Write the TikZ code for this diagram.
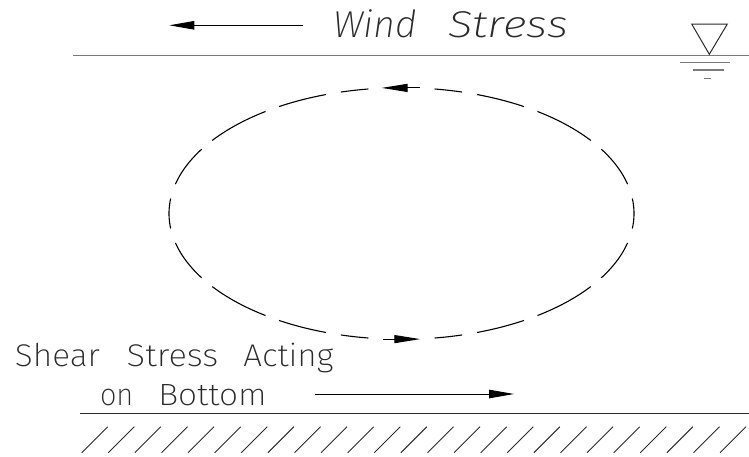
\documentclass[tikz,border=0pt]{standalone}
\usepackage{fontspec}
\usepackage{graphicx}
\usetikzlibrary{arrows.meta}
\newfontfamily\cadfont{Fira Sans}[UprightFont=* ExtraLight, ItalicFont=* ExtraLight Italic, BoldFont=* ExtraLight]
\newcommand\cadw[3]{\resizebox{#1}{#2}{\cadfont\raisebox{0pt}[\fontcharht\font`H][0pt]{#3}}}
\newcommand\cadwi[3]{\resizebox{#1}{#2}{\cadfont\itshape\raisebox{0pt}[\fontcharht\font`H][0pt]{#3}}}
\definecolor{inkgray}{HTML}{2A2A2A}
\definecolor{linegray}{HTML}{7A7A7A}
\begin{document}
\begin{tikzpicture}[x=1pt,y=-1pt,
  ell/.style={line width=1.1pt, black},
  hatchline/.style={line width=0.9pt, inkgray},
  cadtext/.style={anchor=base west, inner sep=0pt, outer sep=0pt, text=inkgray},
  stressarrow/.style={line width=0.9pt, black, -{Triangle[length=25pt,width=8.5pt]}},
  surface/.style={line width=1.3pt, linegray},
  bottomline/.style={line width=1.5pt, inkgray},
  wl/.style={line width=1pt, inkgray}]
\useasboundingbox (0,0) rectangle (749,456);

% water surface
\coordinate (s1) at (73,55.3);
\coordinate (s2) at (749,55.3);
\draw[surface] (s1) -- (s2);

% water level symbol
\coordinate (t1) at (691.7,24);
\coordinate (t2) at (727.3,24);
\coordinate (t3) at (709.3,54.3);
\draw[wl] (t1) -- (t2) -- (t3) -- cycle;
\coordinate (l1a) at (680,62.7); \coordinate (l1b) at (730,62.7);
\coordinate (l2a) at (693,70);   \coordinate (l2b) at (724,70);
\coordinate (l3a) at (704,78.7); \coordinate (l3b) at (711,78.7);
\draw[line width=1.4pt, linegray] (l1a) -- (l1b);
\draw[line width=1.2pt, linegray] (l2a) -- (l2b);
\draw[line width=1.2pt, linegray] (l3a) -- (l3b);

% wind stress
\coordinate (wa1) at (303.3,25.3);
\coordinate (wa2) at (169.3,25.3);
\draw[stressarrow] (wa1) -- (wa2);
\node[cadtext] (wind) at (333,37.3) {\cadwi{83.7pt}{25.6pt}{Wind}\hspace{31.6pt}\cadwi{119.7pt}{25.6pt}{Stress}};

% circulation ellipse (dashed)
\foreach \s/\e in {-6.85/6.85, 13.5/30.7, 35.5/54.2, 58.2/71, 74.9/81.8,
                   98.2/105.1, 109/121.8, 125.8/144.5, 149.3/166.5, 173.15/186.85,
                   193.5/210.7, 215.5/234.2, 238.2/251, 254.9/261.8,
                   278.2/285.1, 289/301.8, 305.8/324.5, 329.3/346.5}
  \draw[ell] plot[domain=\s:\e, samples=24, smooth] ({401.5+232.5*cos(\x)},{213.5-125.8*sin(\x)});
\coordinate (ta1) at (420.1,87.9);
\coordinate (ta2) at (381.6,87.9);
\draw[ell, -{Triangle[length=26pt,width=8pt]}] (ta1) -- (ta2);
\coordinate (ba1) at (383.3,339.1);
\coordinate (ba2) at (420.3,339.1);
\draw[ell, -{Triangle[length=26pt,width=8pt]}] (ba1) -- (ba2);

% shear stress label
\node[cadtext] (shear) at (15,366.7) {\cadw{85pt}{21.5pt}{Shear}\hspace{26.7pt}\cadw{91.6pt}{21.5pt}{Stress}\hspace{25pt}\cadw{90pt}{21.5pt}{Acting}};
\node[cadtext] (onbot) at (100,405.7) {\cadw{33.3pt}{21pt}{on}\hspace{25pt}\cadw{108.4pt}{21pt}{Bottom}};
\coordinate (sa1) at (315,394);
\coordinate (sa2) at (514,394);
\draw[stressarrow] (sa1) -- (sa2);

% bottom
\coordinate (b1) at (80,413.3);
\coordinate (b2) at (749,413.3);
\draw[bottomline] (b1) -- (b2);
\foreach \i in {0,...,24}
  \draw[hatchline] ({81.7+26.6*\i},452.7) -- ({107.7+26.6*\i},426.7);
\end{tikzpicture}
\end{document}
